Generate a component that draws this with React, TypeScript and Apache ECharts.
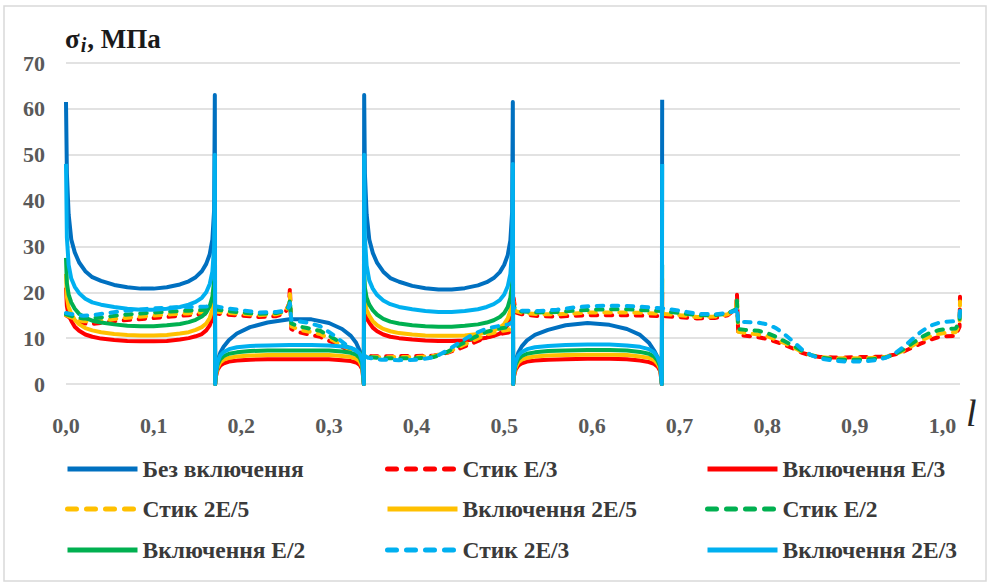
import React, { useEffect, useRef } from "react";
import * as echarts from "echarts";

// ---------- data ----------
const xSolid = [
  0, 0.001, 0.003, 0.006, 0.01, 0.015, 0.022, 0.03, 0.04, 0.055, 0.07, 0.085, 0.1, 0.115, 0.13, 0.14, 0.148, 0.155, 0.16, 0.164, 0.167, 0.169, 0.1698,
  0.1702, 0.171, 0.173, 0.176, 0.18, 0.186, 0.195, 0.21, 0.23, 0.255, 0.28, 0.3, 0.315, 0.325, 0.331, 0.335, 0.338, 0.3398,
  0.3402, 0.341, 0.343, 0.346, 0.35, 0.355, 0.362, 0.37, 0.38, 0.395, 0.41, 0.425, 0.44, 0.455, 0.47, 0.48, 0.488, 0.495, 0.5, 0.504, 0.507, 0.509, 0.5098,
  0.5102, 0.511, 0.513, 0.516, 0.52, 0.526, 0.535, 0.55, 0.57, 0.595, 0.62, 0.64, 0.655, 0.665, 0.671, 0.675, 0.678, 0.6798,
  0.6802,
];

const bezVkl = [
  61.5, 46, 37, 31.5, 28.7, 26.5, 24.6, 23.3, 22.5, 21.6, 21.1, 20.8, 20.8, 21.1, 21.7, 22.4, 23.3, 24.6, 26.2, 28.3, 31.5, 38, 63,
  0, 2.5, 5, 6.8, 8.2, 9.6, 11.0, 12.4, 13.4, 14.1, 14.1, 13.3, 12.0, 10.5, 9.0, 7.3, 5.0, 0,
  63, 46, 37, 31.5, 28.6, 26.4, 24.5, 23.1, 22.3, 21.4, 20.9, 20.6, 20.6, 20.9, 21.5, 22.2, 23.1, 24.4, 26.0, 28.1, 31.3, 37.5, 61.5,
  0, 2.5, 5, 6.8, 8.2, 9.5, 10.7, 11.8, 12.8, 13.3, 12.9, 12.0, 10.7, 9.0, 7.3, 5.8, 4.0, 0,
  62,
];

const vklE3 = [
  21, 17, 15, 13.8, 12.5, 11.6, 10.8, 10.3, 9.9, 9.6, 9.4, 9.3, 9.3, 9.4, 9.7, 10.0, 10.4, 10.9, 11.7, 12.8, 14.5, 17, 21,
  0, 1.6, 3.1, 4.0, 4.5, 4.9, 5.1, 5.3, 5.4, 5.4, 5.4, 5.4, 5.2, 5.0, 4.7, 4.2, 3.2, 0,
  19.5, 16, 14.4, 13.4, 12.3, 11.5, 10.8, 10.3, 10.0, 9.7, 9.5, 9.4, 9.4, 9.5, 9.8, 10.1, 10.5, 11.0, 11.8, 12.9, 14.5, 16.8, 20,
  0, 1.6, 3.1, 4.0, 4.5, 4.9, 5.1, 5.3, 5.4, 5.5, 5.5, 5.4, 5.1, 4.8, 4.4, 3.8, 2.8, 0,
  20,
];

const vkl2E5 = [
  24, 19, 16.8, 15.3, 14.0, 13.0, 12.2, 11.7, 11.3, 10.9, 10.7, 10.6, 10.6, 10.7, 11.0, 11.3, 11.8, 12.4, 13.2, 14.4, 16.2, 19, 24,
  0, 1.9, 3.6, 4.7, 5.3, 5.7, 6.0, 6.2, 6.3, 6.3, 6.3, 6.3, 6.1, 5.9, 5.5, 4.9, 3.7, 0,
  22, 18, 16.2, 14.9, 13.7, 12.8, 12.0, 11.5, 11.1, 10.8, 10.6, 10.5, 10.5, 10.6, 10.9, 11.2, 11.7, 12.3, 13.1, 14.3, 16.0, 18.6, 23,
  0, 1.9, 3.6, 4.7, 5.3, 5.7, 6.0, 6.2, 6.3, 6.4, 6.4, 6.3, 6.0, 5.7, 5.2, 4.4, 3.3, 0,
  23,
];

const vklE2 = [
  27.5, 22, 19.5, 17.8, 16.4, 15.3, 14.4, 13.8, 13.4, 13.0, 12.7, 12.6, 12.6, 12.8, 13.1, 13.5, 14.0, 14.7, 15.6, 17.0, 19.0, 22.5, 28,
  0, 2.2, 4.2, 5.4, 6.1, 6.6, 6.9, 7.2, 7.3, 7.3, 7.3, 7.3, 7.1, 6.8, 6.4, 5.7, 4.3, 0,
  25, 21, 18.8, 17.3, 16.1, 15.1, 14.2, 13.6, 13.2, 12.8, 12.6, 12.5, 12.5, 12.7, 13.0, 13.4, 13.9, 14.6, 15.5, 16.8, 18.8, 22, 26,
  0, 2.2, 4.2, 5.4, 6.1, 6.6, 6.9, 7.2, 7.3, 7.4, 7.4, 7.3, 7.0, 6.6, 6.0, 5.1, 3.8, 0,
  26,
];

const vkl2E3 = [
  48, 32, 26, 23, 21.2, 19.8, 18.6, 17.8, 17.3, 16.8, 16.4, 16.2, 16.2, 16.4, 16.8, 17.3, 17.9, 18.8, 20.0, 21.8, 24.5, 30, 50,
  0, 2.5, 4.8, 6.2, 7.0, 7.6, 8.0, 8.3, 8.4, 8.5, 8.5, 8.4, 8.2, 7.9, 7.4, 6.6, 5.0, 0,
  50, 32, 25.8, 22.6, 20.8, 19.4, 18.2, 17.4, 16.8, 16.3, 15.9, 15.7, 15.7, 15.9, 16.3, 16.8, 17.4, 18.3, 19.5, 21.3, 24, 29.5, 48,
  0, 2.5, 4.8, 6.2, 7.0, 7.6, 8.0, 8.3, 8.5, 8.6, 8.6, 8.4, 8.1, 7.6, 6.9, 5.8, 4.3, 0,
  48,
];

const xDashed = [
  0, 0.005, 0.012, 0.02, 0.03, 0.045, 0.06, 0.08, 0.1, 0.12,
  0.14, 0.16, 0.17, 0.18, 0.2, 0.22, 0.24, 0.25, 0.2545, 0.2555,
  0.257, 0.265, 0.275, 0.29, 0.305, 0.32, 0.335, 0.345, 0.36, 0.38,
  0.4, 0.42, 0.435, 0.45, 0.465, 0.48, 0.495, 0.505, 0.5095, 0.5105,
  0.513, 0.52, 0.54, 0.56, 0.58, 0.6, 0.62, 0.64, 0.66, 0.68,
  0.7, 0.72, 0.74, 0.755, 0.7645, 0.7655, 0.767, 0.775, 0.79, 0.8,
  0.81, 0.82, 0.83, 0.84, 0.85, 0.86, 0.875, 0.89, 0.905, 0.92,
  0.935, 0.945, 0.955, 0.965, 0.975, 0.985, 0.995, 1.005, 1.015, 1.0195, 1.02,
];

const stykE3 = [
  15.0, 14.4, 13.6, 13.2, 13.1, 13.4, 13.8, 14.1, 14.4, 14.7,
  15.0, 15.3, 15.4, 15.2, 14.9, 14.6, 14.8, 15.4, 17.5, 21.0,
  12.0, 11.3, 10.9, 10.3, 9.0, 7.6, 6.5, 6.1, 6.0, 6.1,
  6.1, 6.2, 6.8, 7.8, 9.0, 10.2, 10.9, 11.2, 12.0, 19.0,
  15.6, 15.2, 14.8, 14.7, 14.9, 15.0, 15.0, 15.0, 14.9, 14.8,
  14.6, 14.3, 14.4, 15.0, 16.5, 19.8, 10.8, 10.5, 10.2, 9.8,
  9.2, 8.5, 7.7, 6.8, 6.2, 5.9, 5.8, 5.8, 5.9, 5.9,
  6.0, 6.4, 7.0, 7.9, 8.8, 9.6, 10.2, 10.4, 10.5, 12.5, 19.0,
];

const styk2E5 = [
  15.0, 14.6, 14.0, 13.7, 13.6, 13.9, 14.3, 14.6, 14.9, 15.2,
  15.4, 15.7, 15.8, 15.6, 15.3, 15.0, 15.2, 15.7, 17.3, 19.6,
  12.6, 11.9, 11.5, 10.9, 9.5, 7.9, 6.6, 6.0, 5.8, 5.9,
  5.9, 6.1, 6.9, 8.2, 9.5, 10.8, 11.5, 11.8, 12.5, 18.0,
  15.9, 15.5, 15.2, 15.2, 15.4, 15.6, 15.6, 15.6, 15.5, 15.3,
  15.0, 14.6, 14.7, 15.2, 16.5, 19.0, 11.4, 11.1, 10.8, 10.4,
  9.7, 8.9, 8.0, 7.0, 6.3, 5.9, 5.6, 5.6, 5.6, 5.7,
  5.9, 6.4, 7.2, 8.3, 9.4, 10.3, 10.9, 11.2, 11.3, 13.0, 18.0,
];

const stykE2 = [
  15.2, 14.9, 14.5, 14.3, 14.3, 14.6, 15.0, 15.3, 15.6, 15.8,
  16.0, 16.2, 16.3, 16.0, 15.6, 15.3, 15.5, 15.9, 17.0, 18.5,
  13.2, 12.6, 12.2, 11.6, 10.0, 8.2, 6.7, 5.9, 5.6, 5.6,
  5.6, 5.9, 7.0, 8.6, 10.1, 11.4, 12.1, 12.4, 13.0, 17.2,
  16.1, 15.8, 15.6, 15.7, 16.0, 16.2, 16.3, 16.3, 16.1, 15.9,
  15.5, 15.0, 15.0, 15.4, 16.3, 18.2, 12.0, 11.8, 11.6, 11.1,
  10.3, 9.3, 8.3, 7.2, 6.3, 5.8, 5.4, 5.3, 5.3, 5.4,
  5.8, 6.4, 7.5, 8.8, 10.1, 11.1, 11.7, 12.0, 12.1, 13.5, 17.3,
];

const styk2E3 = [
  15.5, 15.3, 15.0, 14.9, 15.0, 15.4, 15.8, 16.2, 16.5, 16.7,
  16.8, 16.9, 17.0, 16.6, 16.1, 15.6, 15.7, 16.0, 16.8, 17.6,
  14.0, 13.7, 13.4, 12.6, 10.7, 8.5, 6.7, 5.7, 5.3, 5.2,
  5.3, 5.8, 7.3, 9.2, 10.9, 12.1, 12.7, 13.0, 13.5, 16.6,
  16.3, 16.0, 15.9, 16.2, 16.7, 17.0, 17.1, 17.0, 16.8, 16.5,
  16.0, 15.3, 15.2, 15.5, 16.0, 16.8, 13.5, 13.5, 13.4, 13.0,
  12.2, 10.8, 9.2, 7.5, 6.3, 5.6, 5.1, 4.9, 4.9, 5.1,
  5.7, 6.6, 8.0, 9.7, 11.3, 12.6, 13.3, 13.6, 13.7, 14.5, 16.0,
];

const seriesNames = [
  "Без включення",
  "Стик E/3",
  "Включення E/3",
  "Стик 2E/5",
  "Включення 2E/5",
  "Стик E/2",
  "Включення E/2",
  "Стик 2E/3",
  "Включення 2E/3",
];

const yTicks = { min: 0, max: 70, step: 10 };
const xTicks = { min: 0, max: 1.02, step: 0.1 };

// ---------- styling ----------
const SERIF = "Liberation Serif";
const C_BLUE = "#0070C0";
const C_RED = "#FF0000";
const C_YEL = "#FFC000";
const C_GRN = "#00B050";
const C_CYAN = "#00B0F0";

const pairs = (xs: number[], ys: number[]) => xs.map((x, i) => [x, ys[i]]);

function mk(name: string, color: string, dashed: boolean, xs: number[], ys: number[]) {
  return {
    name,
    type: "line",
    data: pairs(xs, ys),
    symbol: "none",
    showSymbol: false,
    smooth: false,
    silent: true,
    emphasis: { disabled: true },
    itemStyle: { color },
    lineStyle: {
      color,
      width: 4,
      type: dashed ? [6.5, 8.5] : "solid",
      cap: dashed ? "round" : "butt",
      join: "round",
    },
  };
}

const legendCols = [65, 385, 705];
const legendRows = [469, 509, 550];

export default function App() {
  const ref = useRef<HTMLDivElement>(null);
  useEffect(() => {
    document.body.style.margin = "0";
    const chart = echarts.init(ref.current!, null, { renderer: "svg" });
    const colors = [C_BLUE, C_RED, C_RED, C_YEL, C_YEL, C_GRN, C_GRN, C_CYAN, C_CYAN];
    const dashed = [false, true, false, true, false, true, false, true, false];
    const dataY = [bezVkl, stykE3, vklE3, styk2E5, vkl2E5, stykE2, vklE2, styk2E3, vkl2E3];
    const series = seriesNames.map((n, i) =>
      mk(n, colors[i], dashed[i], dashed[i] ? xDashed : xSolid, dataY[i])
    );
    const legends = seriesNames.map((n, i) => ({
      data: [n],
      left: legendCols[i % 3],
      top: legendRows[Math.floor(i / 3)] - 12,
      padding: 0,
      itemWidth: 70,
      itemHeight: 24,
      selectedMode: false,
      itemStyle: { opacity: 0 },
      lineStyle: dashed[i]
        ? { width: 5, type: [9, 10], cap: "round" }
        : { width: 5, type: "solid", cap: "butt" },
      textStyle: { fontFamily: SERIF, fontWeight: "bold", fontSize: 23.5, color: "#3a3a3a" },
    }));
    chart.setOption({
      animation: false,
      backgroundColor: "#ffffff",
      title: {
        text: "{s|σ}{i|i}{s|, МПа}",
        left: 60,
        top: 20,
        textStyle: {
          fontFamily: SERIF,
          rich: {
            s: { fontFamily: SERIF, fontWeight: "bold", fontSize: 27, color: "#1a1a1a", verticalAlign: "bottom" },
            i: { fontFamily: SERIF, fontWeight: "bold", fontStyle: "italic", fontSize: 20, color: "#1a1a1a", verticalAlign: "bottom", padding: [0, 1, -3, 1] },
          },
        },
      },
      grid: { left: 66, right: 35, top: 63, bottom: 203, containLabel: false },
      xAxis: {
        type: "value",
        min: xTicks.min,
        max: xTicks.max,
        interval: xTicks.step,
        name: "l",
        nameLocation: "end",
        nameGap: 6,
        nameTextStyle: { fontFamily: SERIF, fontStyle: "italic", fontSize: 38, color: "#262626", verticalAlign: "top", padding: [10, 0, 0, 0] },
        axisLine: { show: false },
        axisTick: { show: false },
        splitLine: { show: false },
        axisLabel: {
          margin: 30,
          showMaxLabel: false,
          fontFamily: SERIF,
          fontWeight: "bold",
          fontSize: 22,
          color: "#595959",
          formatter: (v: number) => (v > 1.001 ? "" : v.toFixed(1).replace(".", ",")),
        },
      },
      yAxis: {
        type: "value",
        min: yTicks.min,
        max: yTicks.max,
        interval: yTicks.step,
        axisLine: { show: false },
        axisTick: { show: false },
        splitLine: { lineStyle: { color: "#d9d9d9", width: 1.5 } },
        axisLabel: { margin: 21, fontFamily: SERIF, fontWeight: "bold", fontSize: 22, color: "#595959" },
      },
      legend: legends,
      graphic: [
        {
          type: "rect",
          silent: true,
          z: -10,
          shape: { x: 4, y: 6, width: 982, height: 575 },
          style: { fill: "none", stroke: "#d9d9d9", lineWidth: 1.5 },
        },
      ],
      series,
    });
    return () => chart.dispose();
  }, []);
  return <div ref={ref} style={{ width: 995, height: 587 }} />;
}
